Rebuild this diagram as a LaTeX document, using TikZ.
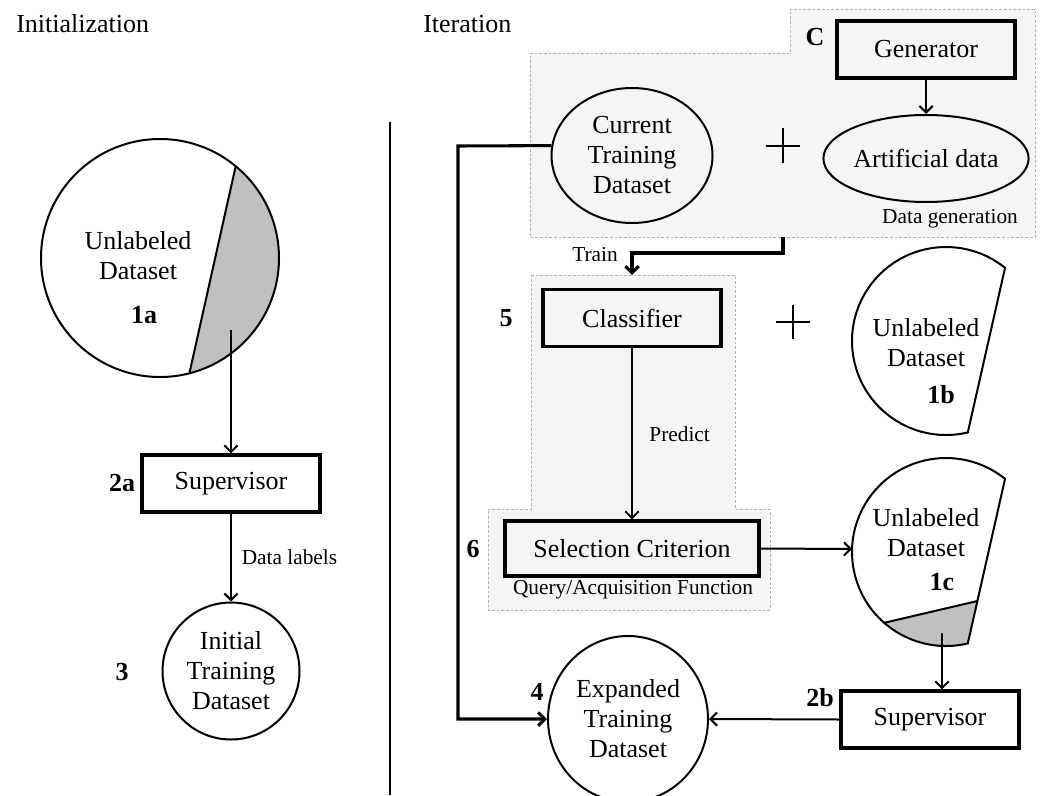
\documentclass[tikz,border=0pt]{standalone}
\usepackage{fontspec}
\setmainfont{Liberation Serif}
\usepackage{xcolor}
\usetikzlibrary{arrows.meta, shapes.geometric, calc}
\definecolor{regionfill}{HTML}{F5F5F5}
\definecolor{segfill}{HTML}{C0C0C0}

\begin{document}
\begin{tikzpicture}[x=0.75pt, y=-0.75pt,
  >={Straight Barb[length=5pt,width=10pt]},
  every node/.style={font=\fontsize{19.5}{22.5}\selectfont, align=center},
  procbox/.style={draw, line width=2.3pt, minimum width=133.5pt, minimum height=42.75pt, inner sep=0pt},
  dataset/.style={draw, line width=1.5pt, inner sep=0pt},
  region/.style={draw=gray!60, dash pattern=on 2pt off 1.5pt, line width=0.6pt, fill=regionfill},
  smalltext/.style={font=\fontsize{16}{19}\selectfont},
  numtag/.style={font=\fontsize{19.5}{22.5}\selectfont\bfseries},
  conn/.style={line width=1.5pt},
  heavy/.style={line width=2.3pt}
]
\useasboundingbox (0,0) rectangle (1044,795);

% Titles and divider
\node[anchor=base west, inner sep=0pt] (initTitle) at (16,33) {Initialization};
\node[anchor=base west, inner sep=0pt] (iterTitle) at (423,33) {Iteration};
\draw[line width=1.3pt] (390,122) -- (390,795);

% Unlabeled dataset 1a with labeled part
\coordinate (c1a) at (160,258);
\fill[segfill] (c1a) ++(-50.5:119) arc[start angle=-50.5, end angle=75.7, radius=119] -- cycle;
\draw[line width=1.5pt] (c1a) circle[radius=119];
\draw[line width=1.5pt] ($(c1a)+(-50.5:119)$) -- ($(c1a)+(75.7:119)$);
\node (t1a) at (138,256) {Unlabeled\\Dataset};
\node[numtag] (n1a) at (144,315) {1a};
\coordinate (g1a) at (231,330);

% Supervisor 2a
\node[procbox] (sup2a) at (231,483.5) {Supervisor};
\node[numtag] (n2a) at (122,483) {2a};
\draw[conn,->] (g1a) -- (sup2a.north);

% Initial training dataset
\node[dataset, circle, minimum size=102.75pt] (init) at (231,671) {Initial\\Training\\Dataset};
\node[numtag] (n3) at (122,672) {3};
\draw[conn,->] (sup2a.south) -- node[right, smalltext, xshift=4pt] {Data labels} (init.north);

% Data generation region
\draw[region] (530,53) -- (790,53) -- (790,9) -- (1035,9) -- (1035,237) -- (530,237) -- cycle;
% Classifier region
\draw[region] (531,275) -- (735,275) -- (735,509) -- (770,509) -- (770,610) -- (488,610) -- (488,509) -- (531,509) -- cycle;

% Current training dataset + artificial data
\node[dataset, ellipse, minimum width=120.75pt, minimum height=101.25pt] (cur) at (632,155.5) {Current\\Training\\Dataset};
\node[procbox] (gen) at (926,49.5) {Generator};
\node[dataset, ellipse, minimum width=132.75pt, minimum height=65.25pt] (art) at (926,158.5) {Artificial data};
\node[numtag] (nC) at (815,37) {C};
\draw[conn,->] (gen) -- (art);
\draw[line width=2.2pt] (766,146) -- (800,146) (783,128) -- (783,163);
\node[smalltext] (lblgen) at (950,219) {Data generation};

% Expanded training dataset
\node[dataset, ellipse, minimum width=120pt, minimum height=124.5pt] (exp) at (628,719) {Expanded\\Training\\Dataset};
\node[numtag] (n4) at (537,692) {4};
\coordinate (cornA) at (458,146);
\draw[heavy,->] (cur.173) -- (cornA) |- (exp.west);

% Train
\coordinate (cOut) at (783,237);
\coordinate (rIn) at (632,275);
\draw[heavy,->] (cOut) -- ++(0,16) -| (rIn);
\node[smalltext] (lbltrain) at (595,255) {Train};

% Classifier and selection
\node[procbox] (cls) at (632,318) {Classifier};
\node[numtag] (n5) at (506,318) {5};
\node[procbox, minimum width=190.5pt, minimum height=41.25pt] (sel) at (632,548.5) {Selection Criterion};
\node[numtag] (n6) at (473,549) {6};
\draw[conn,->] (cls) -- node[right, smalltext, xshift=9pt] {Predict} (sel);
\node[smalltext] (lblq) at (633,590) {Query/Acquisition Function};
\draw[line width=2.2pt] (776,322) -- (810,322) (793,305) -- (793,339);

% Unlabeled dataset 1b
\coordinate (c1b) at (946,341);
\draw[line width=1.5pt] (c1b) ++(76.6:94) arc[start angle=76.6, end angle=308.9, radius=94] -- cycle;
\node (t1b) at (926,343) {Unlabeled\\Dataset};
\node[numtag] (n1b) at (941,395) {1b};

% Unlabeled dataset 1c with queried part
\coordinate (c1c) at (946,552);
\fill[segfill] (977.4,601) -- (884.2,622.8) arc[start angle=131.1, end angle=76.6, radius=94] -- cycle;
\draw[line width=1.5pt] (977.4,601) -- (884.2,622.8);
\draw[line width=1.5pt] (c1c) ++(76.6:94) arc[start angle=76.6, end angle=308.9, radius=94] -- cycle;
\node (t1c) at (926,533) {Unlabeled\\Dataset};
\node[numtag] (n1c) at (942,582) {1c};
\coordinate (w1c) at (852,549);
\draw[conn,->] (sel.east) -- (w1c);
\coordinate (g1c) at (942,633);

% Supervisor 2b
\node[procbox] (sup2b) at (930,719.5) {Supervisor};
\node[numtag] (n2b) at (820,698) {2b};
\draw[conn,->] (g1c) -- (g1c |- sup2b.north);
\draw[conn,->] (sup2b.west) -- (exp.east);

\end{tikzpicture}
\end{document}
